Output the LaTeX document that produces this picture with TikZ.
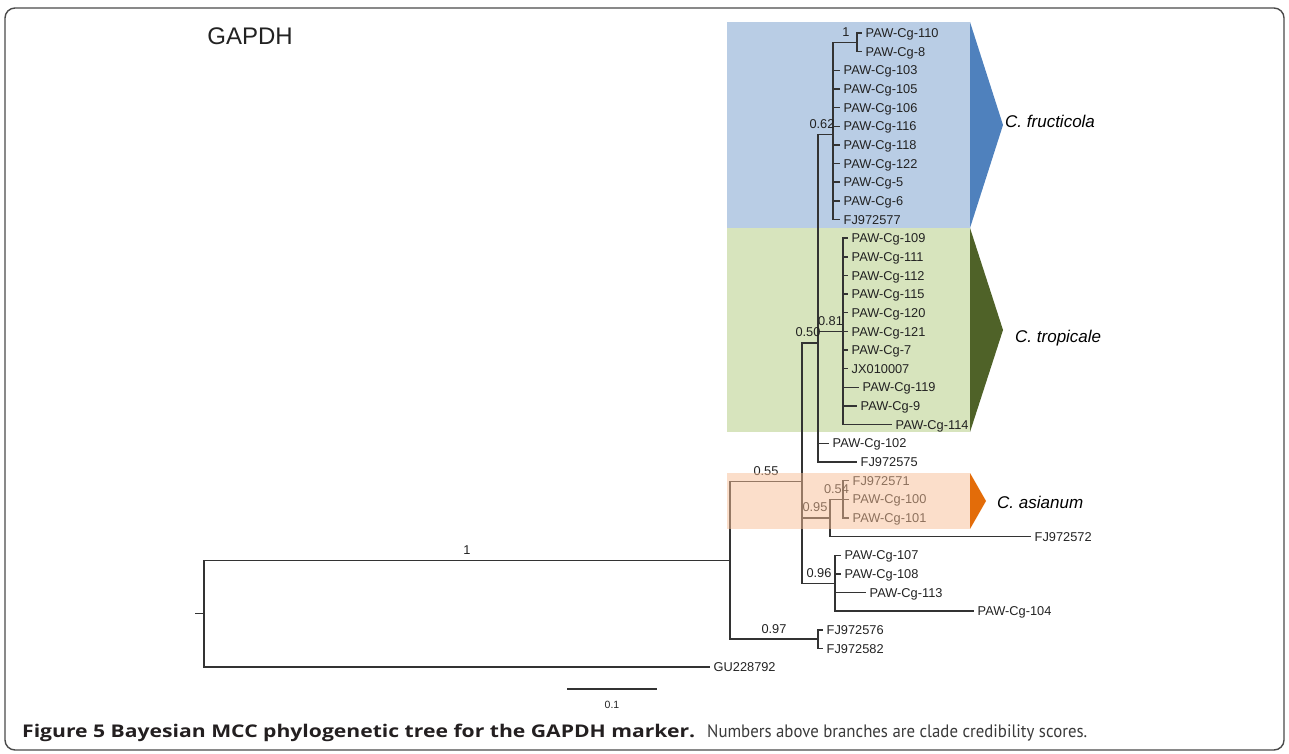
\documentclass[tikz,border=0pt]{standalone}
\usepackage{graphicx}
\usepackage{fontspec}
\setmainfont{Liberation Sans}
\newfontfamily\capfont{PT Sans}
\newfontfamily\capbfont{Open Sans}
\definecolor{boxblue}{HTML}{B9CDE5}
\definecolor{triblue}{HTML}{4F81BD}
\definecolor{boxgreen}{HTML}{D7E4BD}
\definecolor{trigreen}{HTML}{4F6228}
\definecolor{boxorange}{HTML}{F7BE96}
\definecolor{triorange}{HTML}{E36C09}
\definecolor{treeline}{HTML}{333333}
\definecolor{txt}{HTML}{222222}
\definecolor{framec}{HTML}{4A4A4A}
\definecolor{capbold}{HTML}{231F20}
\definecolor{capreg}{HTML}{3A3A3A}
\begin{document}
\begin{tikzpicture}[x=1pt,y=-1pt,
 br/.style={draw=treeline, line width=1.4pt},
 tip/.style={anchor=base west, yshift=-4.6pt, inner xsep=3.5pt, inner ysep=0pt, text=txt, font=\fontsize{12.8}{14}\selectfont},
 supp/.style={anchor=base, yshift=6pt, inner sep=0pt, text=txt, font=\fontsize{12.8}{14}\selectfont},
 clade/.style={anchor=base west, yshift=-6pt, inner sep=0pt, text=black, font=\fontsize{17}{19}\selectfont\itshape},
]
\useasboundingbox (0,0) rectangle (1289,754);
% frame
\draw[rounded corners=10pt, line width=1.4pt, draw=framec] (5,8) rectangle (1284,750);
% clade highlights (behind)
\fill[boxblue] (727,22) rectangle (970,228);
\fill[triblue] (970,22) -- (1003,125) -- (970,228) -- cycle;
\fill[boxgreen] (727,228) rectangle (970,432);
\fill[trigreen] (970,228) -- (1003,330) -- (970,432) -- cycle;
\fill[triorange] (970,473) -- (986,501) -- (970,529) -- cycle;
% title
\node[anchor=base, inner sep=0pt, text=txt, font=\fontsize{24}{26}\selectfont] (title) at (250,45) {GAPDH};
% internal nodes
\coordinate (Rs) at (195,613.65);
\coordinate (R) at (204,613.65);
\coordinate (A) at (730,560.2);
\coordinate (B) at (802,481.3);
\coordinate (C) at (818,342.8);
\coordinate (D) at (833,134.6);
\coordinate (J) at (857,42.3);
\coordinate (E) at (843,331.4);
\coordinate (G) at (830,517.9);
\coordinate (H) at (843,499.25);
\coordinate (I) at (835,583.2);
\coordinate (F) at (818,639.1);
% tips
\foreach \i/\x/\y/\lab in {
 0/862/33.0/PAW-Cg-110, 1/862/51.65/PAW-Cg-8,
 2/840/70.3/PAW-Cg-103, 3/840/88.95/PAW-Cg-105, 4/840/107.6/PAW-Cg-106,
 5/840/126.25/PAW-Cg-116, 6/840/144.9/PAW-Cg-118, 7/840/163.55/PAW-Cg-122,
 8/840/182.2/PAW-Cg-5, 9/840/200.85/PAW-Cg-6, 10/840/219.5/FJ972577,
 11/848/238.15/PAW-Cg-109, 12/848/256.8/PAW-Cg-111, 13/848/275.45/PAW-Cg-112,
 14/848/294.1/PAW-Cg-115, 15/848/312.75/PAW-Cg-120, 16/848/331.4/PAW-Cg-121,
 17/848/350.05/PAW-Cg-7, 18/848/368.7/JX010007, 19/859/387.35/PAW-Cg-119,
 20/857/406.0/PAW-Cg-9, 21/892/424.65/PAW-Cg-114, 22/829/443.3/PAW-Cg-102,
 23/857/461.95/FJ972575, 24/849/480.6/FJ972571, 25/849/499.25/PAW-Cg-100,
 26/849/517.9/PAW-Cg-101, 27/1031/536.55/FJ972572, 28/841/555.2/PAW-Cg-107,
 29/841/573.85/PAW-Cg-108, 30/866/592.5/PAW-Cg-113, 31/974/611.15/PAW-Cg-104,
 32/823/629.8/FJ972576, 33/823/648.45/FJ972582, 34/710/667.1/GU228792}
 {\coordinate (t\i) at (\x,\y); \node[tip] (n\i) at (t\i) {\lab};}
% branches
\draw[br] (Rs) -- (R);
\draw[br] (R) |- (A);
\draw[br] (R) |- (t34);
\draw[br] (A) |- (B);
\draw[br] (A) |- (F);
\draw[br] (B) |- (C);
\draw[br] (B) |- (G);
\draw[br] (B) |- (I);
\draw[br] (C) |- (D);
\draw[br] (C) |- (E);
\draw[br] (C) |- (t22);
\draw[br] (C) |- (t23);
\draw[br] (D) |- (J);
\foreach \i in {0,1} \draw[br] (J) |- (t\i);
\foreach \i in {2,...,10} \draw[br] (D) |- (t\i);
\foreach \i in {11,...,21} \draw[br] (E) |- (t\i);
\draw[br] (G) |- (H);
\draw[br] (G) |- (t27);
\foreach \i in {24,25,26} \draw[br] (H) |- (t\i);
\foreach \i in {28,...,31} \draw[br] (I) |- (t\i);
\foreach \i in {32,33} \draw[br] (F) |- (t\i);
% support values
\node[supp] (sRA) at (467,560.2) {1};
\node[supp] (sAB) at (766,481.3) {0.55};
\node[supp] (sAF) at (774,639.1) {0.97};
\node[supp] (sBC) at (808,342.8) {0.50};
\node[supp] (sBG) at (815,517.9) {0.95};
\node[supp] (sBI) at (819,583.2) {0.96};
\node[supp] (sCD) at (822,134.6) {0.62};
\node[supp] (sCE) at (830.5,331.4) {0.81};
\node[supp] (sDJ) at (846,42.3) {1};
\node[supp] (sGH) at (836.5,499.25) {0.54};
% orange highlight (over the tree)
\fill[boxorange, fill opacity=0.5] (727,473) rectangle (970,529);
% clade names
\node[clade] (cf) at (1005,122) {C. fructicola};
\node[clade] (ct) at (1015,336) {C. tropicale};
\node[clade] (ca) at (997,502) {C. asianum};
% scale bar
\coordinate (sb1) at (567,689);
\coordinate (sb2) at (657,689);
\draw[line width=1.6pt, draw=treeline] (sb1) -- (sb2);
\node[inner sep=0pt, text=txt, font=\fontsize{10.5}{12}\selectfont] (sbl) at (612,705) {0.1};
% caption
\node[anchor=base west, inner sep=0pt] (capb) at (22,737)
 {\resizebox{673pt}{\height}{\capbfont\bfseries\fontsize{17.5}{20}\selectfont\color{capbold}Figure 5 Bayesian MCC phylogenetic tree for the GAPDH marker.}};
\node[anchor=base west, inner sep=0pt] (capr) at (707,737)
 {\resizebox{380pt}{\height}{\capfont\fontsize{18}{20}\selectfont\color{capreg}Numbers above branches are clade credibility scores.}};
\end{tikzpicture}
\end{document}
